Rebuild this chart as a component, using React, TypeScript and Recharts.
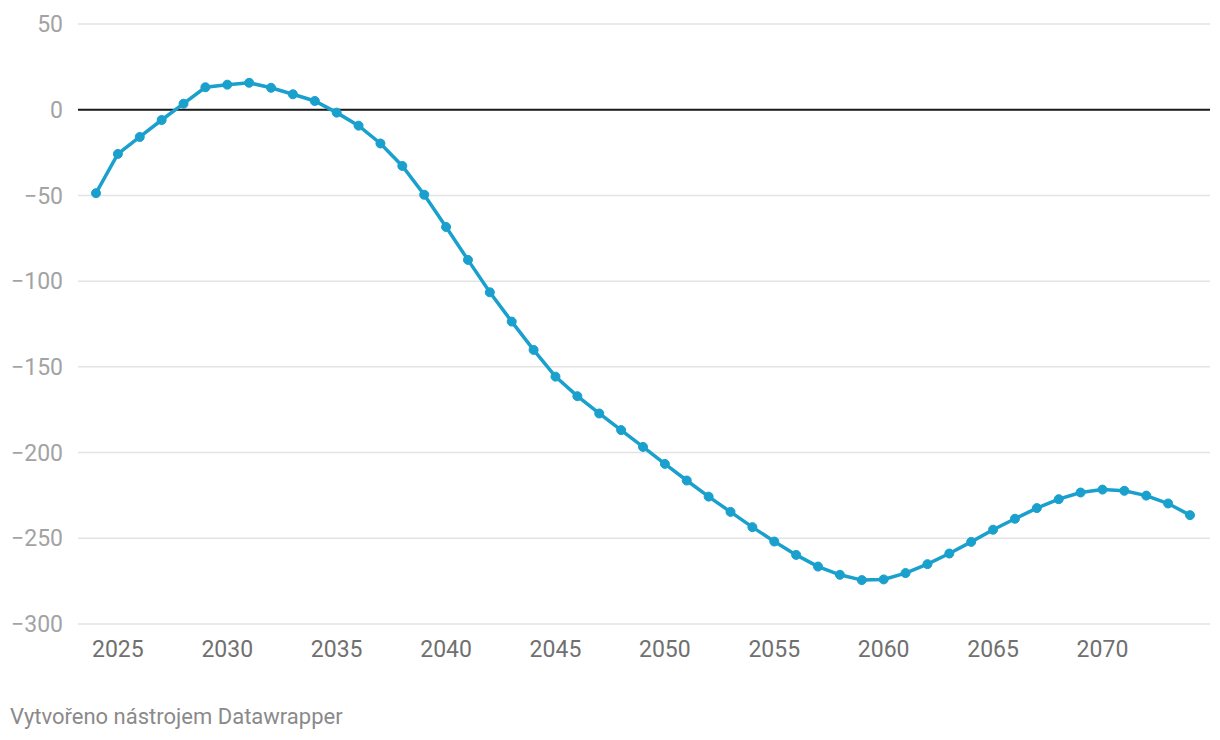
import React from 'react';
import { LineChart, Line, XAxis, YAxis, CartesianGrid, ReferenceLine } from 'recharts';

const years = [
  2024, 2025, 2026, 2027, 2028, 2029, 2030, 2031, 2032, 2033, 2034, 2035, 2036, 2037, 2038, 2039, 2040,
  2041, 2042, 2043, 2044, 2045, 2046, 2047, 2048, 2049, 2050, 2051, 2052, 2053, 2054, 2055, 2056, 2057,
  2058, 2059, 2060, 2061, 2062, 2063, 2064, 2065, 2066, 2067, 2068, 2069, 2070, 2071, 2072, 2073, 2074,
];

const values = [
  -48.7, -25.8, -15.9, -6.0, 3.5, 13.1, 14.6, 15.7, 12.8, 9.0, 5.1, -1.7, -9.3, -19.7, -32.8, -49.6, -68.4,
  -87.6, -106.5, -123.6, -140.1, -155.7, -167.1, -177.2, -186.9, -196.7, -206.6, -216.3, -225.7, -234.6, -243.5, -251.9, -259.7, -266.5,
  -271.3, -274.4, -274.0, -270.3, -265.1, -258.9, -252.1, -245.0, -238.6, -232.4, -227.2, -223.3, -221.6, -222.3, -225.1, -229.7, -236.5,
];

const xTicks = [2025, 2030, 2035, 2040, 2045, 2050, 2055, 2060, 2065, 2070];
const yTicks = [-300, -250, -200, -150, -100, -50, 0, 50];

const chartData = years.map((year, i) => ({ year, val: values[i] }));

const fmtY = (v: number) => (v < 0 ? '\u2212' + Math.abs(v) : String(v));

const App: React.FC = () => {
  return (
    <div style={{ position: 'absolute', top: 0, left: 0, width: 1220, height: 740, background: '#fff', fontFamily: 'Roboto, sans-serif' }}>
      <LineChart width={1220} height={680} data={chartData} margin={{ top: 24, right: 10, bottom: 0, left: 0 }}>
        <CartesianGrid stroke="#e3e3e3" strokeWidth={1.5} vertical={false} />
        <XAxis
          dataKey="year"
          type="number"
          domain={[2024, 2074]}
          ticks={xTicks}
          padding={{ left: 18, right: 20 }}
          axisLine={false}
          tickLine={false}
          tickSize={6}
          tickMargin={11}
          height={56}
          tick={{ fontSize: 23, fill: '#707070', fontFamily: 'Roboto' }}
        />
        <YAxis
          type="number"
          domain={[-300, 50]}
          ticks={yTicks}
          interval={0}
          axisLine={false}
          tickLine={false}
          tickSize={6}
          tickMargin={9}
          width={78}
          tickFormatter={fmtY}
          tick={{ fontSize: 23, fill: '#a3a3a3', fontFamily: 'Roboto' }}
        />
        <ReferenceLine y={0} stroke="#1a1a1a" strokeWidth={2} />
        <Line
          type="linear"
          dataKey="val"
          stroke="#1aa0cd"
          strokeWidth={3.5}
          dot={{ r: 4.5, fill: '#1aa0cd', stroke: '#1aa0cd', strokeWidth: 1 }}
          activeDot={false}
          isAnimationActive={false}
        />
      </LineChart>
      <div style={{ position: 'absolute', left: 10, top: 704, fontSize: 22, color: '#8a8a8a', fontFamily: 'Roboto' }}>
        Vytvořeno nástrojem Datawrapper
      </div>
    </div>
  );
};

export default App;
